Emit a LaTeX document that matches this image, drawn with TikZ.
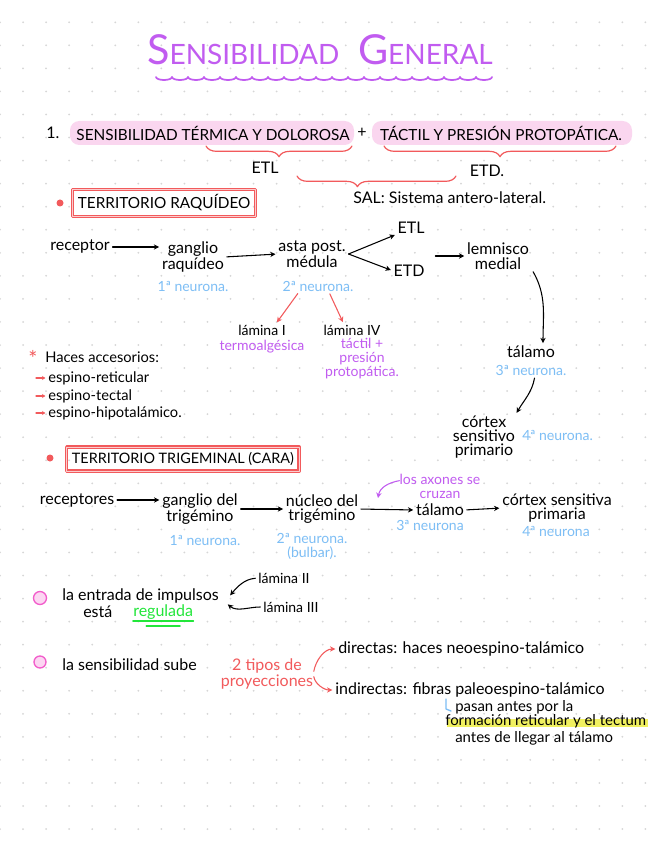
\documentclass[tikz,border=0pt]{standalone}
\usepackage{fontspec}
\setmainfont{Lato}
\usetikzlibrary{arrows.meta,decorations.pathreplacing}
\definecolor{lila}{HTML}{C15CF0}
\definecolor{celeste}{HTML}{7DBEF5}
\definecolor{rojo}{HTML}{F25A5C}
\definecolor{rosa}{HTML}{FAD6EF}
\definecolor{fucsia}{HTML}{F25CCB}
\definecolor{verde}{HTML}{22E63A}
\definecolor{amarillo}{HTML}{F0F060}
\definecolor{punto}{HTML}{D6D6D6}
\newcommand{\letra}{\fontsize{10.5}{10.5}\selectfont}
\newcommand{\negra}{\fontsize{12}{10.8}\selectfont}
\newcommand{\mayus}{\fontsize{11.5}{11.5}\selectfont}

\begin{document}
\begin{tikzpicture}[x=0.75pt,y=-0.75pt,line cap=round,line join=round,>={Stealth[length=4pt,width=4pt]},
  txt/.style={font=\negra,inner sep=0pt,align=center},
  neu/.style={txt,font=\letra,text=celeste},
  nota/.style={txt,font=\letra,text=lila},
  arr/.style={->,line width=0.8pt,shorten >=2pt,shorten <=2pt},
  rarr/.style={arr,draw=rojo},
  caja/.style={draw=rojo,line width=0.9pt,double=rojo!30,double distance=0.7pt,inner xsep=4pt,inner ysep=4pt},
  llave/.style={rojo,line width=0.9pt,decorate}]
\useasboundingbox (0,0) rectangle (656,848);
\fill[white] (0,0) rectangle (656,848);
\foreach \i in {0,...,28}
  \foreach \j in {0,...,36}
    \fill[punto] (23.05*\i,22.3+23.05*\j) circle (1);

\node[txt,text=lila] (titulo) at (320,50) {\fontsize{31}{31}\selectfont S\fontsize{21}{21}\selectfont ENSIBILIDAD\hspace{14pt}\fontsize{31}{31}\selectfont G\fontsize{21}{21}\selectfont ENERAL};
\foreach \k in {0,...,20}
  \draw[lila,line width=1.3pt] (156+16*\k,77) arc[start angle=180,end angle=0,x radius=8,y radius=3];

\fill[rosa,rounded corners=7pt] (70,121) rectangle (354,145);
\fill[rosa,rounded corners=7pt] (372,121) rectangle (632,145);
\node[txt,anchor=west] (uno) at (46,133) {1.};
\node[txt,font=\mayus] (term) at (213,133) {SENSIBILIDAD TÉRMICA Y DOLOROSA};
\node[txt] (mas) at (362,133) {+};
\node[txt,font=\mayus] (tact) at (501,133) {TÁCTIL Y PRESIÓN PROTOPÁTICA.};
\draw[llave,decoration={brace,amplitude=8pt}] (352,146) -- (206,146);
\draw[llave,decoration={brace,amplitude=8pt}] (616,146) -- (384,146);
\node[txt] (etl) at (265,168) {ETL};
\node[txt] (etd) at (487,171) {ETD.};
\draw[llave,decoration={brace,amplitude=8pt,aspect=0.62}] (456,176) -- (297,176);
\node[txt,anchor=west] (sal) at (353,198) {SAL: Sistema antero-lateral.};

\fill[rojo] (60,203) circle (3.5);
\node[txt,font=\mayus,caja,anchor=west] (raq) at (72,203) {TERRITORIO RAQUÍDEO};

\node[txt] (rec) at (80,247) {receptor};
\node[txt] (gang) at (193,257) {ganglio\\raquídeo};
\node[txt] (asta) at (312,254) {asta post.\\médula};
\node[txt] (etlb) at (411,228) {ETL};
\node[txt] (etdb) at (409,271) {ETD};
\node[txt] (lem) at (498,256) {lemnisco\\medial};
\coordinate (rama) at ([xshift=2pt]asta.east);
\draw[arr] (rec.east) -- (gang.west |- rec.east);
\draw[arr] (gang.east) -- (asta.west);
\draw[arr,shorten <=0pt] (rama) -- (etlb.south west);
\draw[arr,shorten <=0pt] (rama) -- (etdb.west);
\draw[arr] ([xshift=6pt]etlb.east |- lem.west) -- (lem.west);
\node[neu] (n1a) at (193,286) {1ª neurona.};
\node[neu] (n2a) at (318,286) {2ª neurona.};

\node[txt,font=\letra] (lamI) at (262,330) {lámina I};
\node[nota] (termo) at (262,347) {termoalgésica};
\node[txt,font=\letra] (lamIV) at (352,330) {lámina IV};
\node[nota] (tact2) at (362,359) {táctil +\\presión\\protopática.};
\draw[rarr] ([xshift=-14pt]n2a.south) -- ([xshift=10pt]lamI.north);
\draw[rarr] ([xshift=8pt]n2a.south) -- ([xshift=-6pt]lamIV.north);

\node[txt] (tal) at (531,352) {tálamo};
\node[neu] (n3a) at (531,370) {3ª neurona.};
\node[txt] (cort) at (484,437) {córtex\\sensitivo\\primario};
\node[neu,anchor=west] (n4a) at (522,435) {4ª neurona.};
\draw[arr] ([xshift=2pt]lem.south east) to[out=-60,in=90] ([xshift=9pt]tal.north);
\draw[arr] ([xshift=3pt]n3a.south) to[out=-100,in=60] (cort.north east);

\node[txt,text=rojo,font=\fontsize{16}{16}\selectfont] (ast) at (33,358) {*};
\node[txt,anchor=west,font=\fontsize{11}{11}\selectfont] (haces) at (45,357) {Haces accesorios:};
\node[txt,anchor=west,font=\fontsize{11}{11}\selectfont] (h1) at (48,378) {espino-reticular};
\node[txt,anchor=west,font=\fontsize{11}{11}\selectfont] (h2) at (48,396) {espino-tectal};
\node[txt,anchor=west,font=\fontsize{11}{11}\selectfont] (h3) at (48,413) {espino-hipotalámico.};
\foreach \h in {h1,h2,h3}
  \draw[rojo,line width=0.8pt,->,>={Stealth[length=2.5pt,width=3pt]}] ([xshift=-9pt]\h.west) -- ([xshift=-2pt]\h.west);

\fill[rojo] (50,458) circle (3.5);
\node[txt,font=\fontsize{10.8}{10.8}\selectfont,caja,anchor=west] (trig) at (66,459) {TERRITORIO TRIGEMINAL (CARA)};

\node[txt] (rec2) at (77,500) {receptores};
\node[txt] (gang2) at (200,509) {ganglio del\\trigémino};
\node[txt] (nuc) at (322,509) {núcleo del\\trigémino};
\node[txt] (tal2) at (440,510) {tálamo};
\node[txt] (cort2) at (557,508) {córtex sensitiva\\primaria};
\draw[arr] (rec2.east) -- (gang2.west |- rec2.east);
\draw[arr] (gang2.east) -- (nuc.west);
\draw[arr] (nuc.east) -- (tal2.west);
\draw[arr] (tal2.east) -- (cort2.west);
\node[neu] (n1b) at (205,540) {1ª neurona.};
\node[neu] (n2b) at (312,546) {2ª neurona.\\(bulbar).};
\node[neu] (n3b) at (430,525) {3ª neurona};
\node[neu] (n4b) at (556,531) {4ª neurona};
\node[nota] (axon) at (440,486) {los axones se\\cruzan};
\coordinate (cruce) at (378,498);
\draw[->,lila,line width=0.8pt] ([yshift=4pt]axon.west) to[out=190,in=80] (cruce);

\draw[fucsia,line width=1pt,fill=fucsia!25] (40,598) circle (6.5);
\node[txt,anchor=west] (entrada) at (62,596) {la entrada de impulsos};
\node[txt,anchor=west] (esta) at (83,612) {está};
\node[txt,anchor=west,text=verde] (reg) at (133,612) {regulada};
\draw[verde,line width=1.2pt] ([yshift=-1pt]reg.south west) -- ([yshift=-1pt]reg.south east);
\draw[verde,line width=1.2pt] ([xshift=10pt,yshift=-5pt]reg.south west) -- ([xshift=-10pt,yshift=-5pt]reg.south east);
\node[txt,anchor=west,font=\letra] (lamII) at (258,578) {lámina II};
\node[txt,anchor=west,font=\letra] (lamIII) at (263,607) {lámina III};
\draw[arr] (lamII.west) to[out=185,in=50] ([xshift=7pt,yshift=-1pt]entrada.east);
\draw[arr] (lamIII.west) to[out=180,in=-40] ([xshift=5pt,yshift=-5pt]entrada.east);

\draw[fucsia,line width=1pt,fill=fucsia!25] (40,662) circle (6);
\node[txt,anchor=west] (sube) at (62,665) {la sensibilidad sube};
\node[txt,text=rojo] (tipos) at (267,674) {2 tipos de\\proyecciones};
\node[txt,anchor=west] (dir) at (338,649) {directas: haces neoespino-talámico};
\node[txt,anchor=west] (ind) at (335,690) {indirectas: fibras paleoespino-talámico};
\draw[rarr] (tipos.east) to[out=80,in=180] (dir.west);
\draw[rarr] (tipos.east) to[out=-80,in=180] (ind.west);

\draw[celeste,line width=1pt] (446,699) -- (446,709) -- (451,711);
\fill[amarillo] (447,719) rectangle (648,727);
\node[txt,anchor=west,font=\fontsize{11.2}{11.2}\selectfont] (pasan) at (455,707) {pasan antes por la};
\node[txt,anchor=west,font=\fontsize{11.2}{11.2}\selectfont] (form) at (445,721) {formación reticular y el tectum};
\node[txt,anchor=west,font=\fontsize{11.2}{11.2}\selectfont] (llegar) at (455,738) {antes de llegar al tálamo};
\end{tikzpicture}
\end{document}
